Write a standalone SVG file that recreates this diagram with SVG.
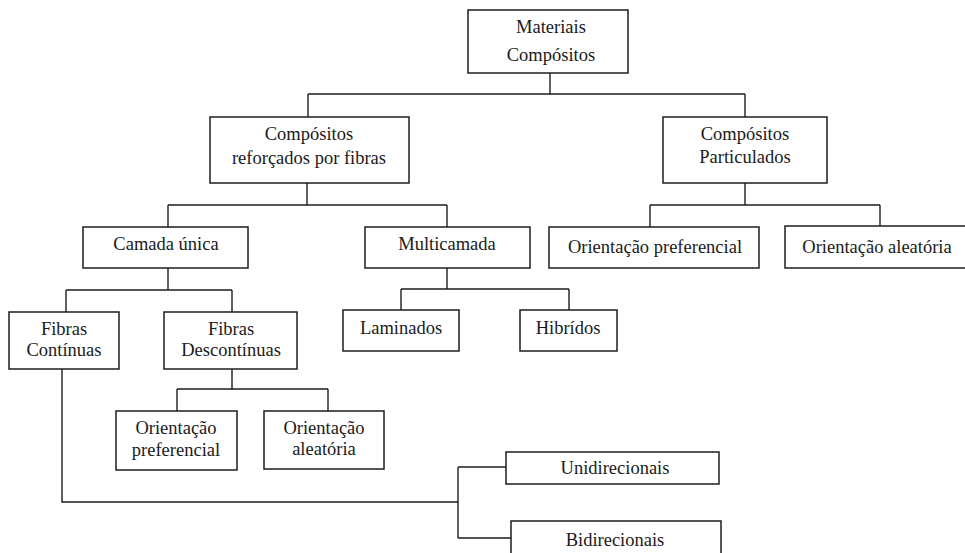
<svg xmlns="http://www.w3.org/2000/svg" width="965" height="553" viewBox="0 0 965 553">
<style>
.box{fill:#fff;stroke:#1e1e1e;stroke-width:1.5}
.t{font-family:'Liberation Serif','Times New Roman',serif;font-size:18.5px;fill:#1a1a1a;text-anchor:middle}
.c{fill:none;stroke:#1e1e1e;stroke-width:1.4}
</style>
<rect width="965" height="553" fill="#fff"/>
<g id="connectors">
<path class="c" d="M550 73V94M308 94H745M308 94V117M745 94V117"/>
<path class="c" d="M307 183V205M168 205H447M168 205V227M447 205V227"/>
<path class="c" d="M745 183V205M650 205H880M650 205V227M880 205V226"/>
<path class="c" d="M168 268V290M66 290H232M66 290V312M232 290V312"/>
<path class="c" d="M447 268V289M401 289H569M401 289V310M569 289V310"/>
<path class="c" d="M232 369V389M177 389H328M177 389V411M328 389V411"/>
<path class="c" d="M62 369V502H458M458 467V538M458 467H506M458 538H511"/>
</g>
<g id="materiais">
<rect class="box" x="468" y="10" width="160" height="63"/>
<text class="t" x="551" y="33">Materiais</text>
<text class="t" x="551" y="61">Compósitos</text>
</g>
<g id="reforcados">
<rect class="box" x="210" y="117" width="199" height="66"/>
<text class="t" x="309" y="140">Compósitos</text>
<text class="t" x="309" y="164">reforçados por fibras</text>
</g>
<g id="particulados">
<rect class="box" x="663" y="117" width="164" height="66"/>
<text class="t" x="745" y="140">Compósitos</text>
<text class="t" x="745" y="163">Particulados</text>
</g>
<g id="camada-unica">
<rect class="box" x="83" y="227" width="165" height="41"/>
<text class="t" x="166" y="250">Camada única</text>
</g>
<g id="multicamada">
<rect class="box" x="365" y="227" width="165" height="41"/>
<text class="t" x="447" y="250">Multicamada</text>
</g>
<g id="orient-pref-part">
<rect class="box" x="549" y="227" width="210" height="41"/>
<text class="t" x="655" y="253">Orientação preferencial</text>
</g>
<g id="orient-aleat-part">
<rect class="box" x="785" y="226" width="190" height="42"/>
<text class="t" x="877" y="253">Orientação aleatória</text>
</g>
<g id="fibras-continuas">
<rect class="box" x="9" y="312" width="110" height="57"/>
<text class="t" x="64" y="335">Fibras</text>
<text class="t" x="64" y="356">Contínuas</text>
</g>
<g id="fibras-descontinuas">
<rect class="box" x="164" y="312" width="133" height="57"/>
<text class="t" x="231" y="335">Fibras</text>
<text class="t" x="231" y="356">Descontínuas</text>
</g>
<g id="laminados">
<rect class="box" x="343" y="310" width="116" height="41"/>
<text class="t" x="401" y="334">Laminados</text>
</g>
<g id="hibridos">
<rect class="box" x="520" y="310" width="97" height="41"/>
<text class="t" x="568" y="334">Hibrídos</text>
</g>
<g id="orient-pref-fib">
<rect class="box" x="116" y="411" width="121" height="59"/>
<text class="t" x="176" y="434">Orientação</text>
<text class="t" x="176" y="456">preferencial</text>
</g>
<g id="orient-aleat-fib">
<rect class="box" x="264" y="411" width="120" height="58"/>
<text class="t" x="324" y="434">Orientação</text>
<text class="t" x="324" y="455">aleatória</text>
</g>
<g id="unidirecionais">
<rect class="box" x="506" y="452" width="213" height="32"/>
<text class="t" x="615" y="474">Unidirecionais</text>
</g>
<g id="bidirecionais">
<rect class="box" x="511" y="521" width="210" height="40"/>
<text class="t" x="615" y="546">Bidirecionais</text>
</g>
</svg>
